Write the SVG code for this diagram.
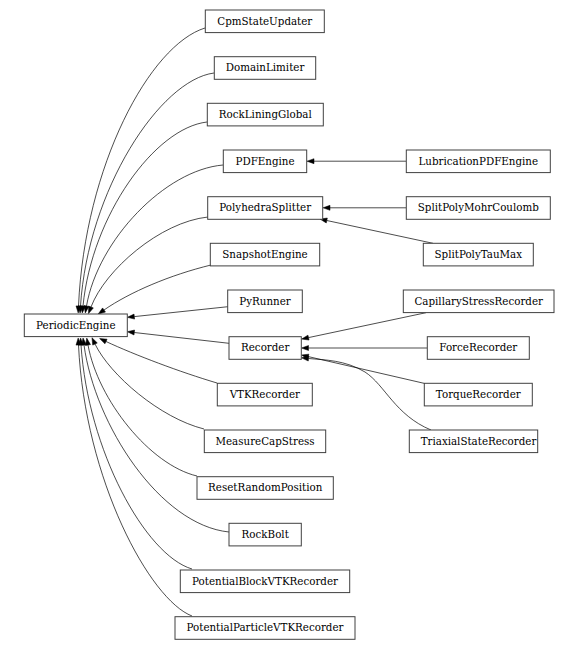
<svg xmlns="http://www.w3.org/2000/svg" width="578" height="650" viewBox="0 0 578 650">
<style>
.n rect{fill:#fff;stroke:#404040;stroke-width:1}
.n text{font-family:"DejaVu Serif",serif;font-size:10.3px;fill:#000;text-anchor:middle}
.e path{fill:none;stroke:#000;stroke-width:0.7;marker-end:url(#a)}
</style>
<defs>
<marker id="a" markerUnits="userSpaceOnUse" markerWidth="8" markerHeight="6" viewBox="0 -3 7 6" refX="0" refY="0" orient="auto" overflow="visible">
<path d="M0,-2.5 L7,0 L0,2.5 z" fill="#000" stroke="#000" stroke-width="0.5"/>
</marker>
</defs>
<rect width="578" height="650" fill="#fff"/>
<g class="e" id="connectors">
<path d="M205,28 C150,45 85,165 78.5,306"/>
<path d="M214,73 C160,80 88,190 80.5,306"/>
<path d="M207,122 C155,128 92,215 83,306"/>
<path d="M223,165 C165,170 98,240 86.5,306"/>
<path d="M208,217 C160,222 105,270 91,307"/>
<path d="M211,265 C170,275 130,292 104,310"/>
<path d="M228,306.7 L134.3,316.6"/>
<path d="M229,343.3 L134.3,332.5"/>
<path d="M217,383 C180,372 135,355 106,341.5"/>
<path d="M204,429 C160,418 110,375 95,344"/>
<path d="M197,476 C150,465 98,400 88,345"/>
<path d="M229,532 C160,525 95,425 84,345"/>
<path d="M192,569 C145,555 88,450 81,345"/>
<path d="M192,616 C150,600 85,480 78.5,345"/>
<path d="M406,161.2 L314,161.2"/>
<path d="M406,207.8 L330,207.8"/>
<path d="M433,243.3 L326.8,220.5"/>
<path d="M426,312.7 L308.5,337.6"/>
<path d="M427,348 L308.5,348"/>
<path d="M424,383.3 L308.3,356.6"/>
<path d="M431,430 C395,415 385,385 365,372 C345,360 325,360 308.5,358.5"/>
</g>
<g class="n" id="CpmStateUpdater"><rect x="205.3" y="10" width="119" height="22.6"/><text x="264.8" y="24.5">CpmStateUpdater</text></g>
<g class="n" id="DomainLimiter"><rect x="214.3" y="56.7" width="101.4" height="22.6"/><text x="265" y="71.3">DomainLimiter</text></g>
<g class="n" id="RockLiningGlobal"><rect x="207.3" y="103.3" width="116" height="22.6"/><text x="265.3" y="118">RockLiningGlobal</text></g>
<g class="n" id="PDFEngine"><rect x="223.3" y="150" width="83.4" height="22.6"/><text x="265" y="164.6">PDFEngine</text></g>
<g class="n" id="PolyhedraSplitter"><rect x="207.7" y="196.7" width="115" height="22.6"/><text x="265.2" y="211.3">PolyhedraSplitter</text></g>
<g class="n" id="SnapshotEngine"><rect x="210.3" y="243.3" width="109.4" height="22.6"/><text x="265" y="258">SnapshotEngine</text></g>
<g class="n" id="PyRunner"><rect x="227.7" y="290" width="74.6" height="22.6"/><text x="265" y="304.6">PyRunner</text></g>
<g class="n" id="PeriodicEngine"><rect x="24.3" y="314" width="103" height="22.6"/><text x="75.8" y="328.6">PeriodicEngine</text></g>
<g class="n" id="Recorder"><rect x="229" y="336.7" width="72.3" height="22.6"/><text x="265.2" y="351.3">Recorder</text></g>
<g class="n" id="VTKRecorder"><rect x="217.3" y="383.3" width="95" height="22.6"/><text x="264.8" y="398">VTKRecorder</text></g>
<g class="n" id="MeasureCapStress"><rect x="204.3" y="430" width="121.4" height="22.6"/><text x="265" y="444.6">MeasureCapStress</text></g>
<g class="n" id="ResetRandomPosition"><rect x="197" y="476.7" width="136.3" height="22.6"/><text x="265.2" y="491.3">ResetRandomPosition</text></g>
<g class="n" id="RockBolt"><rect x="229" y="523.3" width="72.3" height="22.6"/><text x="265.2" y="538">RockBolt</text></g>
<g class="n" id="PotentialBlockVTKRecorder"><rect x="180.3" y="570" width="169.4" height="22.6"/><text x="265" y="584.6">PotentialBlockVTKRecorder</text></g>
<g class="n" id="PotentialParticleVTKRecorder"><rect x="175" y="616.7" width="180" height="22.6"/><text x="265" y="631.3">PotentialParticleVTKRecorder</text></g>
<g class="n" id="LubricationPDFEngine"><rect x="406.3" y="150" width="144" height="22.6"/><text x="478.3" y="164.6">LubricationPDFEngine</text></g>
<g class="n" id="SplitPolyMohrCoulomb"><rect x="406.3" y="196.7" width="144" height="22.6"/><text x="478.3" y="211.3">SplitPolyMohrCoulomb</text></g>
<g class="n" id="SplitPolyTauMax"><rect x="423.3" y="243.3" width="110" height="22.6"/><text x="478.3" y="258">SplitPolyTauMax</text></g>
<g class="n" id="CapillaryStressRecorder"><rect x="403.3" y="290" width="150.7" height="22.6"/><text x="478.7" y="304.6">CapillaryStressRecorder</text></g>
<g class="n" id="ForceRecorder"><rect x="427.3" y="336.7" width="102" height="22.6"/><text x="478.3" y="351.3">ForceRecorder</text></g>
<g class="n" id="TorqueRecorder"><rect x="424.3" y="383.3" width="108" height="22.6"/><text x="478.3" y="398">TorqueRecorder</text></g>
<g class="n" id="TriaxialStateRecorder"><rect x="409.3" y="430" width="128.4" height="22.6"/><text x="478.5" y="444.6">TriaxialStateRecorder</text></g>
</svg>
